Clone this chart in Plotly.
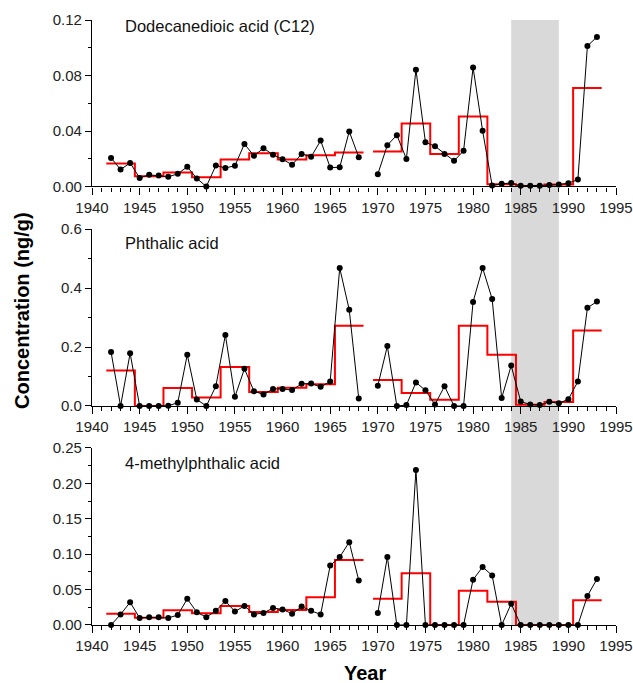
import plotly.graph_objects as go

# ---------------- data ----------------
years = list(range(1942, 1994))  # 1969 has no sample (gap)

c12 = [0.0206, 0.0122, 0.0170, 0.0062, 0.0084, 0.0079, 0.0070, 0.0091, 0.0142, 0.0058,
       0.0000, 0.0151, 0.0134, 0.0149, 0.0307, 0.0221, 0.0276, 0.0228, 0.0197, 0.0156,
       0.0235, 0.0214, 0.0331, 0.0137, 0.0138, 0.0397, 0.0211,
       None,
       0.0089, 0.0298, 0.0370, 0.0199, 0.0842, 0.0319, 0.0290, 0.0235, 0.0185, 0.0257,
       0.0857, 0.0401, 0.0007, 0.0019, 0.0026, 0.0005, 0.0005, 0.0005, 0.0010, 0.0014,
       0.0024, 0.0050, 0.1013, 0.1078]

phthalic = [0.183, 0.000, 0.179, 0.000, 0.000, 0.000, 0.001, 0.011, 0.174, 0.022,
            0.000, 0.067, 0.241, 0.031, 0.126, 0.050, 0.039, 0.058, 0.058, 0.054,
            0.075, 0.076, 0.065, 0.083, 0.468, 0.326, 0.025,
            None,
            0.069, 0.203, 0.000, 0.003, 0.080, 0.053, 0.005, 0.067, 0.000, 0.000,
            0.353, 0.468, 0.363, 0.027, 0.137, 0.015, 0.005, 0.003, 0.014, 0.009,
            0.023, 0.083, 0.333, 0.354]

methyl = [0.000, 0.015, 0.032, 0.010, 0.011, 0.011, 0.010, 0.014, 0.037, 0.018,
          0.011, 0.020, 0.034, 0.019, 0.027, 0.015, 0.017, 0.024, 0.022, 0.016,
          0.026, 0.020, 0.015, 0.084, 0.096, 0.117, 0.063,
          None,
          0.017, 0.096, 0.000, 0.000, 0.219, 0.000, 0.000, 0.000, 0.000, 0.000,
          0.064, 0.082, 0.070, 0.000, 0.030, 0.000, 0.000, 0.000, 0.000, 0.000,
          0.000, 0.000, 0.041, 0.065]

# 3-year averages (step edges in years)
edges_a = [1941.5, 1944.5, 1947.5, 1950.5, 1953.5, 1956.5, 1959.5, 1962.5, 1965.5, 1968.5]
edges_b = [1969.5, 1972.5, 1975.5, 1978.5, 1981.5, 1984.5, 1987.5, 1990.5, 1993.5]

c12_avg_a = [0.0166, 0.0074, 0.0101, 0.0067, 0.0194, 0.0240, 0.0194, 0.0226, 0.0245]
c12_avg_b = [0.0252, 0.0454, 0.0235, 0.0504, 0.0017, 0.0003, 0.0014, 0.0710]
phth_avg_a = [0.120, 0.000, 0.061, 0.029, 0.1325, 0.0475, 0.062, 0.0736, 0.272]
phth_avg_b = [0.088, 0.044, 0.0215, 0.272, 0.174, 0.0045, 0.0136, 0.256]
meth_avg_a = [0.0160, 0.0104, 0.0207, 0.0165, 0.0268, 0.0184, 0.0212, 0.0391, 0.0918]
meth_avg_b = [0.0372, 0.0730, 0.0000, 0.0485, 0.0330, 0.0000, 0.0000, 0.0348]

shade_years = [1984, 1989]

panel_titles = ["Dodecanedioic acid (C12)", "Phthalic acid", "4-methylphthalic acid"]
y_ranges = [[0, 0.12], [0, 0.6], [0, 0.25]]
y_dticks = [0.04, 0.2, 0.05]
y_minor = [0.02, 0.1, 0.025]
y_formats = [".2f", ".1f", ".2f"]

# ---------------- figure ----------------
FONT = "Liberation Sans, Arial, sans-serif"
fig = go.Figure()

series = [c12, phthalic, methyl]
avgs = [(c12_avg_a, c12_avg_b), (phth_avg_a, phth_avg_b), (meth_avg_a, meth_avg_b)]
domains = [[0.7248, 1.0], [0.3620, 0.6545], [0.0, 0.2926]]

for i in range(3):
    xa = "x" if i == 0 else f"x{i+1}"
    ya = "y" if i == 0 else f"y{i+1}"
    a, b = avgs[i]
    sx = edges_a + [None] + edges_b
    sy = a + [a[-1]] + [None] + b + [b[-1]]
    fig.add_trace(go.Scatter(x=sx, y=sy, mode="lines", line=dict(color="#ff0000", width=2, shape="hv"),
                             xaxis=xa, yaxis=ya, showlegend=False, connectgaps=False, hoverinfo="skip"))
    fig.add_trace(go.Scatter(x=years, y=series[i], mode="lines+markers",
                             line=dict(color="black", width=1),
                             marker=dict(color="black", size=6),
                             xaxis=xa, yaxis=ya, showlegend=False, connectgaps=False,
                             cliponaxis=False))

axis_common = dict(showline=True, linecolor="black", linewidth=1.3, showgrid=False, zeroline=False,
                   ticks="outside", tickcolor="black", tickwidth=1, automargin=False,
                   tickfont=dict(family=FONT, size=15, color="#222222"))

layout = dict(
    width=633, height=683, autosize=False,
    margin=dict(l=92, r=17, t=20, b=58, autoexpand=False),
    paper_bgcolor="white", plot_bgcolor="rgba(0,0,0,0)",
    showlegend=False,
)
for i in range(3):
    xk = "xaxis" if i == 0 else f"xaxis{i+1}"
    yk = "yaxis" if i == 0 else f"yaxis{i+1}"
    ya = "y" if i == 0 else f"y{i+1}"
    xa = "x" if i == 0 else f"x{i+1}"
    layout[xk] = dict(axis_common, range=[1940, 1995], dtick=5, tick0=1940, ticklen=7,
                      minor=dict(dtick=1, ticklen=4, ticks="outside", tickcolor="black", tickwidth=1),
                      anchor=ya, domain=[0, 1])
    layout[yk] = dict(axis_common, range=y_ranges[i], dtick=y_dticks[i], tick0=0, ticklen=6,
                      tickformat=y_formats[i],
                      minor=dict(dtick=y_minor[i], ticklen=3, ticks="outside", tickcolor="black", tickwidth=1),
                      anchor=xa, domain=domains[i])
fig.update_layout(**layout)

fig.add_shape(type="rect", xref="x", yref="paper", x0=shade_years[0], x1=shade_years[1], y0=0, y1=1,
              fillcolor="#d9d9d9", line=dict(width=0), layer="below")

title_y = [0.9906, 0.6309, 0.2673]
for t, yy in zip(panel_titles, title_y):
    fig.add_annotation(text=t, xref="paper", yref="paper", x=0.0592, y=yy, xanchor="left", yanchor="middle",
                       showarrow=False, font=dict(family=FONT, size=16.5, color="#111111"))

fig.add_annotation(text="<b>Concentration (ng/g)</b>", xref="paper", yref="paper", x=-0.1336, y=0.5207,
                   textangle=-90, xanchor="center", yanchor="middle", showarrow=False,
                   font=dict(family=FONT, size=20, color="black"))
fig.add_annotation(text="<b>Year</b>", xref="paper", yref="paper", x=0.521, y=-0.0793,
                   xanchor="center", yanchor="middle", showarrow=False,
                   font=dict(family=FONT, size=20, color="black"))

fig.write_html("out.html", config={"displayModeBar": False, "responsive": False},
               post_script="document.body.style.margin='0';document.body.style.overflow='hidden';")
